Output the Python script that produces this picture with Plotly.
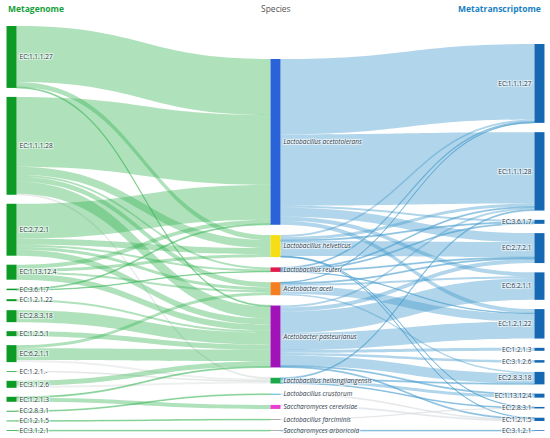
import plotly.graph_objects as go

# node columns (top to bottom as in the picture)
metagenome_ec = ["EC:1.1.1.27", "EC:1.1.1.28", "EC:2.7.2.1", "EC:1.13.12.4", "EC:3.6.1.7",
                 "EC:1.2.1.22", "EC:2.8.3.18", "EC:1.2.5.1", "EC:6.2.1.1", "EC:1.2.1.-",
                 "EC:3.1.2.6", "EC:1.2.1.3", "EC:2.8.3.1", "EC:1.2.1.5", "EC:3.1.2.1"]
species = ["Lactobacillus acetotolerans", "Lactobacillus helveticus", "Lactobacillus reuteri",
           "Acetobacter aceti", "Acetobacter pasteurianus", "Lactobacillus heilongjiangensis",
           "Lactobacillus crustorum", "Saccharomyces cerevisiae", "Lactobacillus farciminis",
           "Saccharomyces arboricola"]
metatranscriptome_ec = ["EC:1.1.1.27", "EC:1.1.1.28", "EC:3.6.1.7", "EC:2.7.2.1", "EC:6.2.1.1",
                        "EC:1.2.1.22", "EC:1.2.1.3", "EC:3.1.2.6", "EC:2.8.3.18", "EC:1.13.12.4",
                        "EC:2.8.3.1", "EC:1.2.1.5", "EC:3.1.2.1"]

# metagenome EC -> species (relative abundance)
mg_src = ["EC:1.1.1.27", "EC:1.1.1.27", "EC:1.1.1.27",
          "EC:1.1.1.28", "EC:1.1.1.28", "EC:1.1.1.28", "EC:1.1.1.28", "EC:1.1.1.28", "EC:1.1.1.28",
          "EC:2.7.2.1", "EC:2.7.2.1", "EC:2.7.2.1", "EC:2.7.2.1", "EC:2.7.2.1",
          "EC:1.13.12.4", "EC:1.13.12.4", "EC:1.13.12.4", "EC:1.13.12.4",
          "EC:3.6.1.7", "EC:3.6.1.7", "EC:1.2.1.22", "EC:2.8.3.18", "EC:1.2.5.1",
          "EC:6.2.1.1", "EC:6.2.1.1", "EC:6.2.1.1", "EC:1.2.1.-",
          "EC:3.1.2.6", "EC:3.1.2.6", "EC:1.2.1.3", "EC:1.2.1.3",
          "EC:2.8.3.1", "EC:1.2.1.5", "EC:3.1.2.1"]
mg_dst = [0, 1, 4,
          0, 1, 2, 3, 4, 5,
          0, 1, 2, 3, 4,
          0, 1, 3, 4,
          0, 2, 4, 4, 4,
          4, 3, 5, 5,
          4, 5, 7, 4,
          6, 8, 9]
mg_val = [56, 5, 1,
          70, 8, 2, 5, 12, 1,
          35, 6, 2, 3, 6,
          4, 3, 2, 6,
          1, 0.5, 2, 12, 5,
          12, 3, 2, 0.7,
          5, 2, 4, 1,
          0.8, 0.7, 0.7]

# species -> metatranscriptome EC
mt_src = [0, 0, 0, 0, 0, 0,
          1, 1, 1, 1, 1, 1,
          2, 2, 2, 2, 2,
          3, 3, 3, 3, 3,
          4, 4, 4, 4, 4, 4, 4, 4, 4,
          5, 5, 5, 5,
          6, 7, 8, 9]
mt_dst = ["EC:1.1.1.27", "EC:1.1.1.28", "EC:3.6.1.7", "EC:2.7.2.1", "EC:6.2.1.1", "EC:1.2.1.22",
          "EC:1.1.1.27", "EC:1.1.1.28", "EC:3.6.1.7", "EC:2.7.2.1", "EC:2.8.3.1", "EC:1.2.1.5",
          "EC:1.1.1.27", "EC:1.1.1.28", "EC:3.6.1.7", "EC:2.7.2.1", "EC:1.2.1.22",
          "EC:1.1.1.27", "EC:2.7.2.1", "EC:6.2.1.1", "EC:1.2.1.22", "EC:2.8.3.18",
          "EC:1.1.1.28", "EC:2.7.2.1", "EC:6.2.1.1", "EC:1.2.1.22", "EC:1.2.1.3",
          "EC:3.1.2.6", "EC:2.8.3.18", "EC:1.13.12.4", "EC:1.2.1.5",
          "EC:1.1.1.28", "EC:2.8.3.18", "EC:1.13.12.4", "EC:2.8.3.1",
          "EC:1.2.1.5", "EC:1.2.1.5", "EC:2.8.3.1", "EC:3.1.2.1"]
mt_val = [75.5, 71.5, 2, 9, 4, 4,
          2, 3, 1, 15, 0.5, 0.5,
          1, 1, 1, 1, 0.5,
          0.5, 1, 2, 8, 1.5,
          2, 4, 21.5, 17, 3, 2.5, 10, 1, 1,
          1, 1, 3, 0.7,
          0.8, 1, 0.3, 0.7]

species_colors = ["#2a62d8", "#f6de17", "#e2184c", "#f47e22", "#a112b9", "#1aa94b",
                  "#21a2c4", "#e93fd2", "#8a8a8a", "#8a8a8a"]

W, H = 550, 438
M_L, M_R, M_T, M_B = 11, 10, 26, 7
PAD = 9
plot_h = H - M_T - M_B

n_l, n_s, n_r = len(metagenome_ec), len(species), len(metatranscriptome_ec)
labels = metagenome_ec + ["<i>%s</i>" % s for s in species] + metatranscriptome_ec

src, dst, val, lcol = [], [], [], []
for s, d, v in zip(mg_src, mg_dst, mg_val):
    src.append(metagenome_ec.index(s))
    dst.append(n_l + d)
    val.append(v)
    lcol.append("rgba(215,222,218,0.45)" if d == 5 else "rgba(55,180,85,0.4)")
for s, d, v in zip(mt_src, mt_dst, mt_val):
    src.append(n_l + s)
    dst.append(n_l + n_s + metatranscriptome_ec.index(d))
    val.append(v)
    lcol.append("rgba(215,220,225,0.45)" if s in (6, 7, 8) else "rgba(70,155,205,0.42)")

# node values as the sankey computes them: max(in, out)
n_all = n_l + n_s + n_r
vin = [0.0] * n_all
vout = [0.0] * n_all
for s, d, v in zip(src, dst, val):
    vout[s] += v
    vin[d] += v
nval = [max(a, b) for a, b in zip(vin, vout)]
cols = [list(range(n_l)), list(range(n_l, n_l + n_s)), list(range(n_l + n_s, n_all))]
ky = min((plot_h - (len(c) - 1) * PAD) / sum(nval[i] for i in c) for c in cols)

# stack each column from a top offset down to the bottom
col_x = [0.001, 0.5, 0.999]
col_top = [0, 33, 18]
node_x, node_y = [0.0] * n_all, [0.0] * n_all
for c, x, top in zip(cols, col_x, col_top):
    hs = [nval[i] * ky for i in c]
    gap = (plot_h - top - sum(hs)) / (len(c) - 1)
    y = top
    for i, h in zip(c, hs):
        node_x[i] = x
        node_y[i] = (y + h / 2) / plot_h
        y += h + gap

node_colors = ["#0c9b24"] * n_l + species_colors + ["#1768b3"] * n_r

fig = go.Figure(go.Sankey(
    arrangement="fixed",
    node=dict(label=labels, x=node_x, y=node_y, pad=PAD, thickness=10,
              color=node_colors, line=dict(width=0)),
    link=dict(source=src, target=dst, value=val, color=lcol),
    textfont=dict(family="Open Sans", size=6.5, color="#2f3a4a"),
    hoverinfo="none",
))

fig.add_annotation(x=0, y=1, xref="paper", yref="paper", xanchor="left", yanchor="bottom",
                   xshift=-5, yshift=10, showarrow=False, text="<b>Metagenome</b>",
                   font=dict(family="Open Sans", size=8.5, color="#15a03a"))
fig.add_annotation(x=0.5, y=1, xref="paper", yref="paper", xanchor="center", yanchor="bottom",
                   yshift=10, showarrow=False, text="Species",
                   font=dict(family="Open Sans", size=8.5, color="#555555"))
fig.add_annotation(x=1, y=1, xref="paper", yref="paper", xanchor="right", yanchor="bottom",
                   xshift=3, yshift=10, showarrow=False, text="<b>Metatranscriptome</b>",
                   font=dict(family="Open Sans", size=8.5, color="#1a7fc3"))

fig.update_layout(width=W, height=H, margin=dict(l=M_L, r=M_R, t=M_T, b=M_B),
                  paper_bgcolor="white", plot_bgcolor="white")
fig.write_html("out.html", config={"displayModeBar": False},
               post_script="document.body.style.margin='0';")
